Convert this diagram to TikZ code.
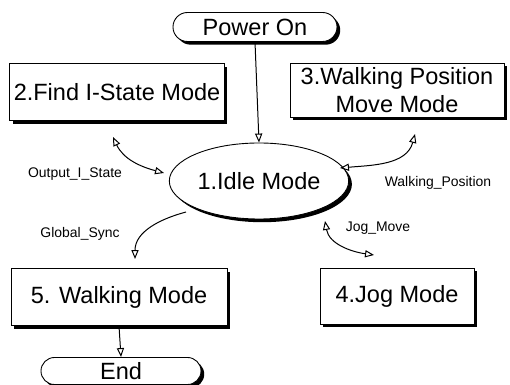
\documentclass[tikz,border=0pt]{standalone}
\usepackage{fontspec}
\setmainfont{Liberation Sans}
\usetikzlibrary{arrows.meta,shapes.geometric,shapes.misc,shadows}

\begin{document}
\begin{tikzpicture}[
    x=0.5bp, y=0.5bp,
    >={Triangle[open, length=4.5pt, width=3.6pt]},
    font=\fontsize{11.8}{14}\selectfont,
    arr/.style={->, line width=0.5pt},
    barr/.style={<->, line width=0.5pt},
    shade/.style={general shadow={fill=black, shadow xshift=1.6bp, shadow yshift=-1.6bp}},
    modebox/.style={draw, fill=white, shade, line width=0.45pt, align=center, inner sep=2pt},
    term/.style={draw, fill=white, shade, rounded rectangle, line width=0.45pt, inner sep=2pt},
    idle/.style={draw, fill=white, shade, ellipse, line width=0.45pt, inner sep=1pt},
    note/.style={font=\fontsize{7}{8}\selectfont}
]
\useasboundingbox (0,0) rectangle (510,-385);

% =========================================================
% terminals and idle state
% =========================================================
\node[term, minimum width=86bp, minimum height=14.5bp] (power) at (255,-27) {Power On};
\node[idle, minimum width=77bp, minimum height=38bp] (idle) at (259,-181) {1.Idle Mode};
\node[term, minimum width=84bp, minimum height=13.5bp] (theend) at (121,-371) {End};

% =========================================================
% mode boxes
% =========================================================
\node[modebox, minimum width=107bp, minimum height=28.5bp] (find) at (117,-92) {2.Find I-State Mode};
\node[modebox, minimum width=107bp, minimum height=27bp] (wpos) at (397,-90)
{3.Walking Position\\Move Mode};
\node[modebox, minimum width=77bp, minimum height=28bp] (jog) at (397,-296) {4.Jog Mode};
\node[modebox, minimum width=108bp, minimum height=28.5bp] (walk) at (119,-297) {5. Walking Mode};

% straight flow
\draw[arr] (power.south) -- (idle.north);
\draw[arr] (walk.south) -- (theend.north);

% =========================================================
% curved transitions (free ends)
% =========================================================
\coordinate (oisTop) at (113,-137);
\coordinate (oisEnd) at (164,-173);
\draw[barr] (oisTop) to[out=-65, in=165] (oisEnd);
\node[note] (oisLbl) at (75,-174) {Output\_I\_State};

\coordinate (wpTop) at (415,-134);
\coordinate (wpEnd) at (340,-168);
\draw[barr] (wpTop) to[out=-105, in=5] (wpEnd);
\node[note] (wpLbl) at (438,-183) {Walking\_Position};

\coordinate (gsStart) at (186,-212);
\coordinate (gsEnd) at (135,-259);
\draw[arr] (gsStart) to[out=195, in=90] (gsEnd);
\node[note] (gsLbl) at (80,-234) {Global\_Sync};

\coordinate (jmTop) at (325,-221);
\coordinate (jmEnd) at (374,-255);
\draw[barr] (jmTop) to[out=-80, in=172] (jmEnd);
\node[note] (jmLbl) at (378,-228) {Jog\_Move};

\end{tikzpicture}
\end{document}
